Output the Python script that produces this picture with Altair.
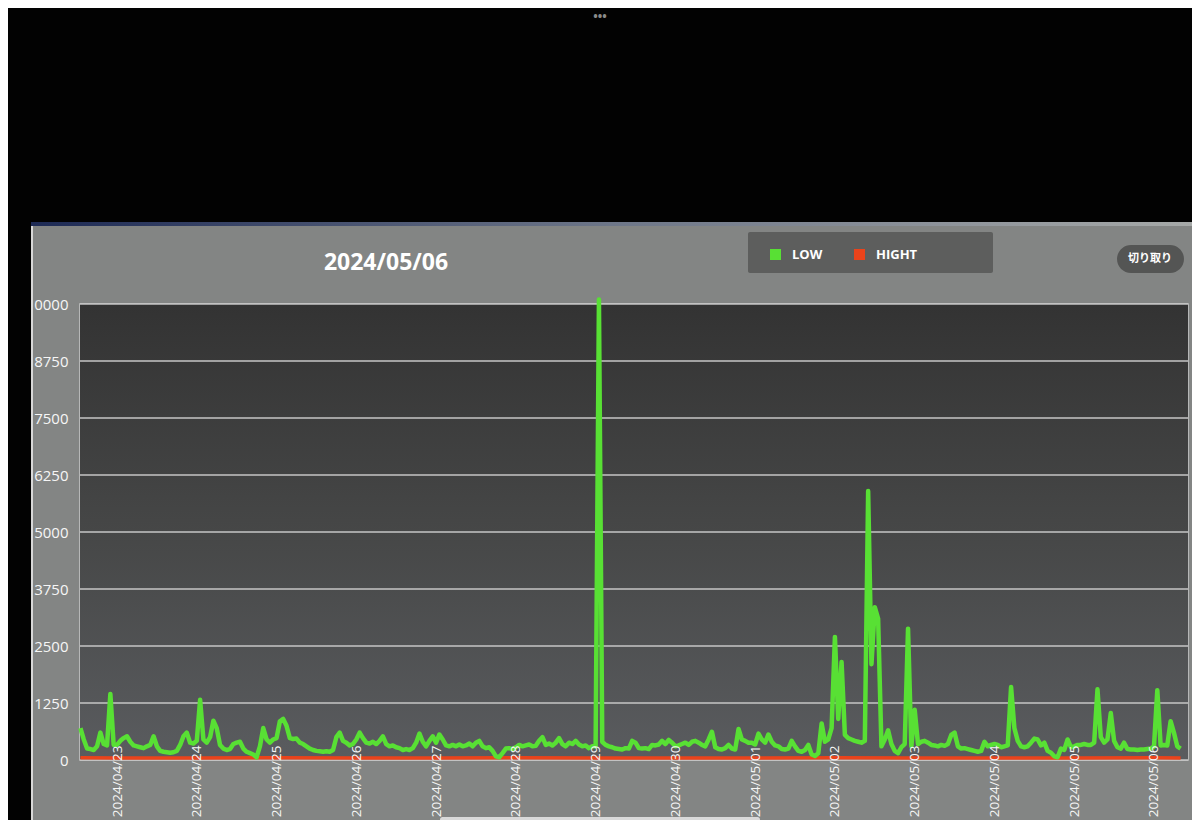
import altair as alt
import pandas as pd

# ---------------- data ----------------
# LOW series, hourly, starting 2024/04/22 13:00
low_0422 = [700, 450, 250, 240, 220, 300, 600, 350, 320, 1450, 330]
low_0423 = [330, 420, 480, 520, 400, 320, 300, 280, 260, 300, 330, 520,
            300, 200, 180, 170, 160, 170, 200, 330, 520, 600, 380, 360]
low_0424 = [420, 1320, 450, 380, 500, 860, 700, 330, 250, 220, 240, 350,
            380, 400, 250, 180, 150, 120, 60, 300, 700, 450, 380, 450]
low_0425 = [480, 850, 900, 750, 480, 460, 470, 380, 350, 300, 250, 220,
            200, 190, 180, 190, 180, 220, 500, 600, 420, 380, 320, 350]
low_0426 = [450, 600, 480, 380, 360, 400, 350, 420, 520, 350, 300, 320,
            280, 260, 220, 240, 220, 260, 380, 580, 400, 300, 420, 520]
low_0427 = [380, 560, 450, 320, 300, 330, 300, 340, 300, 320, 360, 300,
            380, 420, 300, 260, 280, 200, 80, 60, 150, 250, 260, 240]
low_0428 = [280, 330, 300, 320, 340, 300, 310, 420, 500, 330, 360, 320,
            380, 480, 350, 300, 380, 350, 420, 340, 300, 320, 260, 300]
low_0429 = [300, 10100, 400, 330, 300, 280, 250, 240, 230, 260, 250, 420,
            380, 260, 250, 260, 240, 330, 320, 340, 420, 350, 440, 380]
low_0430 = [300, 320, 350, 380, 330, 400, 420, 380, 330, 300, 450, 620,
            280, 240, 230, 260, 330, 250, 230, 680, 450, 420, 380, 380]
low_0501 = [340, 580, 450, 380, 560, 400, 320, 300, 240, 230, 250, 420,
            300, 200, 180, 220, 330, 120, 90, 150, 800, 400, 450, 700]
low_0502 = [2700, 900, 2150, 550, 480, 450, 420, 400, 380, 420, 5900, 2100,
            3350, 3100, 300, 450, 650, 350, 200, 150, 280, 350, 2880, 300]
low_0503 = [1100, 350, 400, 420, 380, 330, 320, 300, 330, 310, 350, 550,
            600, 300, 250, 260, 240, 220, 200, 180, 200, 400, 300, 330]
low_0504 = [350, 330, 280, 300, 320, 1600, 700, 420, 300, 280, 300, 380,
            470, 450, 320, 380, 200, 160, 80, 60, 250, 220, 450, 280]
low_0505 = [300, 330, 330, 350, 330, 330, 380, 1550, 500, 380, 450, 1030,
            420, 280, 250, 380, 240, 230, 230, 220, 230, 230, 240, 250]
low_0506 = [300, 1530, 320, 330, 320, 850, 600, 300, 250]

LOW_START = "2024-04-22 13:00"

# HIGHT series (flat, near zero)
high_times = ["2024-04-22T13:00:00", "2024-04-23T00:00:00", "2024-04-24T00:00:00",
              "2024-04-25T00:00:00", "2024-04-26T00:00:00", "2024-04-27T00:00:00",
              "2024-04-28T00:00:00", "2024-04-29T00:00:00", "2024-04-30T00:00:00",
              "2024-05-01T00:00:00", "2024-05-02T00:00:00", "2024-05-03T00:00:00",
              "2024-05-04T00:00:00", "2024-05-05T00:00:00", "2024-05-06T00:00:00",
              "2024-05-06T08:00:00"]
high_values = [50, 45, 45, 50, 45, 45, 50, 45, 45, 45, 50, 45, 45, 45, 50, 45]

SERIES = ["LOW", "HIGHT"]
COLORS = ["#58e034", "#ea431b"]
Y_TICKS = [0, 1250, 2500, 3750, 5000, 6250, 7500, 8750, 10000]
TITLE = "2024/05/06"
BUTTON = "切り取り"

# ---------------- tables ----------------
low_values = (low_0422 + low_0423 + low_0424 + low_0425 + low_0426 + low_0427 +
              low_0428 + low_0429 + low_0430 + low_0501 + low_0502 + low_0503 +
              low_0504 + low_0505 + low_0506)
low_times = pd.date_range(LOW_START, periods=len(low_values), freq="h").strftime("%Y-%m-%dT%H:%M:%S")
low_df = pd.DataFrame({"time": low_times, "value": low_values, "series": "LOW"})
high_df = pd.DataFrame({"time": high_times, "value": high_values, "series": "HIGHT"})
grid_df = pd.DataFrame({"value": Y_TICKS})

W, H = 1108, 456

x_enc = alt.X("time:T",
              scale=alt.Scale(domain=[alt.DateTime(year=2024, month=4, date=22, hours=12, minutes=52),
                                      alt.DateTime(year=2024, month=5, date=6, hours=10, minutes=14)]),
              axis=alt.Axis(format="%Y/%m/%d", tickCount={"interval": "day", "step": 1},
                            labelAngle=270, labelPadding=2, offset=-17, grid=False, domain=False,
                            ticks=False, title=None, labelOverlap=False, labelFlush=False,
                            labelFontSize=13.5, labelFontWeight=500, zindex=1))
y_scale = alt.Scale(domain=[0, 10000], nice=False)
y_enc = alt.Y("value:Q", scale=y_scale,
              axis=alt.Axis(values=Y_TICKS, format="d", grid=False, domain=False, ticks=False,
                            title=None, labelPadding=12, labelFontSize=15, labelFontWeight=500))
color_enc = alt.Color("series:N",
                      scale=alt.Scale(domain=SERIES, range=COLORS),
                      legend=alt.Legend(orient="none", legendX=689, legendY=-56,
                                        direction="horizontal", title=None,
                                        symbolType="square", symbolSize=9,
                                        symbolStrokeWidth=8, labelOffset=10,
                                        columnPadding=19, labelColor="white",
                                        labelFont="Open Sans", labelFontWeight="bold",
                                        labelFontSize=13, padding=0))

# ---------------- decorations (photo frame / UI) ----------------
dummy = pd.DataFrame({"k": [0]})


def box(x1, x2, y1, y2, fill, radius=0):
    return alt.Chart(dummy).mark_rect(fill=fill, cornerRadius=radius, clip=False).encode(
        x=alt.value(x1), x2=alt.value(x2), y=alt.value(y1), y2=alt.value(y2))


def label(txt, x, y, size, color="white", weight="bold", font="Open Sans"):
    return alt.Chart(dummy).mark_text(text=txt, font=font, fontSize=size, fontWeight=weight,
                                      color=color, align="center", baseline="middle").encode(
        x=alt.value(x), y=alt.value(y))


accent = {"gradient": "linear", "x1": 0, "y1": 0, "x2": 1, "y2": 0,
          "stops": [{"offset": 0, "color": "#1d2a55"}, {"offset": 0.5, "color": "#6d7688"},
                    {"offset": 1, "color": "#a6a9a8"}]}
plot_fill = {"gradient": "linear", "x1": 0, "y1": 0, "x2": 0, "y2": 1,
             "stops": [{"offset": 0, "color": "#333333"}, {"offset": 0.5, "color": "#464747"},
                       {"offset": 1, "color": "#5a5c5f"}]}

top_black = box(-72, 1112, -296, -80, "#020202")
left_black = box(-72, -49, -296, 530, "#020202")
panel_edge = box(-49, -47, -80, 530, "#d8d8d8")
panel_top = box(-49, 1112, -82, -78, accent)
plot_bg = box(0, W, 0, H, plot_fill)
legend_box = box(668, 913, -72, -31, "#5d5e5d", 2)
button_box = box(1037, 1104, -59, -31, "#545554", 14)
button_txt = label(BUTTON, 1070, -45, 11, font="Noto Sans CJK JP")
title_txt = label(TITLE, 306, -41, 23)
dots = label("•••", 520, -287, 12, color="#8a8a8a")
scrollbar = box(360, 680, 513, 518, "#d9d9d9", 3)

grid = alt.Chart(grid_df).mark_rule(color="#c6c6c6", strokeWidth=1.4).encode(
    y=alt.Y("value:Q", scale=y_scale), x=alt.value(0), x2=alt.value(W))

high_line = alt.Chart(high_df).mark_line(strokeWidth=3.5, clip=False).encode(
    x=x_enc, y=y_enc, color=color_enc)
low_line = alt.Chart(low_df).mark_line(strokeWidth=4.5, strokeJoin="round", clip=False).encode(
    x=x_enc, y=y_enc, color=color_enc)

chart = alt.layer(
    top_black, left_black, panel_edge, panel_top, plot_bg, grid, legend_box, button_box,
    button_txt, title_txt, dots, high_line, low_line, scrollbar
).properties(
    width=W, height=H,
    autosize=alt.AutoSizeParams(type="none"),
    padding={"left": 72, "top": 296, "right": 4, "bottom": 60},
    background="#838584",
).configure_view(
    stroke="#c8c8c8", strokeWidth=1.5
).configure_axis(
    labelColor="#f6f6f6", labelFont="Open Sans"
)

chart.save("out.html", embed_options={"renderer": "svg", "actions": False})
